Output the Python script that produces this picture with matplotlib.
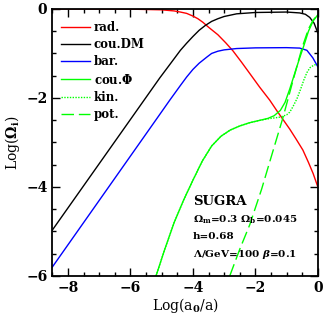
import numpy as np
import matplotlib
matplotlib.use('Agg')
import matplotlib.pyplot as plt
from matplotlib.ticker import MultipleLocator

plt.rcParams['font.family'] = ['DejaVu Serif']
plt.rcParams['font.weight'] = 'bold'
plt.rcParams['mathtext.fontset'] = 'custom'
plt.rcParams['mathtext.rm'] = 'DejaVu Serif:bold'
plt.rcParams['mathtext.it'] = 'DejaVu Serif:bold:italic'
plt.rcParams['mathtext.bf'] = 'DejaVu Serif:bold'

# radiation
x_rad = [-8.5, -6.0, -5.0, -4.6, -4.4, -4.2, -4.0, -3.84, -3.68, -3.5, -3.2, -2.95, -2.72, -2.45, -2.18, -1.86, -1.54, -1.31,
         -1.06, -0.9, -0.7, -0.48, -0.3, -0.15, 0.0]
y_rad = [0.0, -0.005, -0.02, -0.045, -0.07, -0.1, -0.16, -0.22, -0.3, -0.41, -0.58, -0.76, -0.94, -1.19, -1.45, -1.76, -2.05,
         -2.29, -2.54, -2.7, -2.92, -3.17, -3.45, -3.7, -4.0]

# coupled dark matter
x_dm = [-8.5, -5.06, -4.74, -4.4, -4.2, -4.0, -3.8, -3.6, -3.4, -3.2, -3.0, -2.8, -2.6, -2.3, -2.0, -1.0, -0.58, -0.4,
        -0.26, -0.12, 0.0]
y_dm = [-4.97, -1.55, -1.25, -0.93, -0.77, -0.62, -0.48, -0.37, -0.28, -0.22, -0.17, -0.14, -0.11, -0.095, -0.08, -0.07,
        -0.09, -0.12, -0.19, -0.32, -0.54]

# baryons
x_bar = [-8.5, -5.06, -4.74, -4.4, -4.2, -4.0, -3.8, -3.55, -3.4, -3.2, -3.0, -2.6, -2.0, -1.0, -0.58, -0.35, -0.16, 0.0]
y_bar = [-5.8, -2.37, -2.05, -1.72, -1.53, -1.36, -1.22, -1.08, -1.0, -0.95, -0.92, -0.89, -0.875, -0.87, -0.88, -0.93,
         -1.1, -1.3]

# coupled scalar field
x_phi = [-5.18, -4.9, -4.6, -4.3, -4.0, -3.7, -3.4, -3.1, -2.8, -2.5, -2.2, -1.9, -1.6, -1.4, -1.2, -1.05, -0.9, -0.75,
         -0.6, -0.45, -0.3, -0.15, 0.0]
y_phi = [-6.0, -5.4, -4.8, -4.3, -3.85, -3.42, -3.08, -2.86, -2.72, -2.63, -2.56, -2.51, -2.46, -2.4, -2.28, -2.1, -1.8,
         -1.47, -1.14, -0.83, -0.5, -0.27, -0.13]

# kinetic part
x_kin = [-5.18, -4.9, -4.6, -4.3, -4.0, -3.7, -3.4, -3.1, -2.8, -2.5, -2.2, -1.9, -1.6, -1.4, -1.2, -1.0, -0.9, -0.8,
         -0.67, -0.55, -0.45, -0.35, -0.25, -0.12, 0.0]
y_kin = [-6.0, -5.4, -4.8, -4.3, -3.85, -3.42, -3.08, -2.86, -2.72, -2.63, -2.56, -2.51, -2.47, -2.45, -2.43, -2.38, -2.32,
         -2.2, -2.02, -1.8, -1.6, -1.43, -1.32, -1.26, -1.24]

# potential part
x_pot = [-2.82, -2.5, -2.18, -1.8, -1.44, -1.12, -0.8, -0.5, -0.3, -0.15, 0.0]
y_pot = [-6.0, -5.4, -4.85, -4.05, -3.2, -2.45, -1.62, -0.86, -0.45, -0.25, -0.13]

fig = plt.figure(figsize=(3.27, 3.19), dpi=100)
ax = fig.add_axes([0.160, 0.135, 0.812, 0.837])

ax.plot(x_rad, y_rad, color='#ff0000', lw=1.0, label='rad.')
ax.plot(x_dm, y_dm, color='black', lw=1.0, label='cou.DM')
ax.plot(x_bar, y_bar, color='#0000ff', lw=1.0, label='bar.')
ax.plot(x_phi, y_phi, color='#00ff00', lw=1.0, label=r'cou.$\Phi$')
ax.plot(x_kin, y_kin, color='#00ff00', lw=1.0, linestyle=(0, (1, 1)), label='kin.')
ax.plot(x_pot, y_pot, color='#00ff00', lw=1.0, linestyle=(0, (9, 3.5)), label='pot.')

ax.set_xlim(-8.5, 0)
ax.set_ylim(-6, 0)
ax.xaxis.set_major_locator(MultipleLocator(2))
ax.xaxis.set_minor_locator(MultipleLocator(0.5))
ax.yaxis.set_major_locator(MultipleLocator(2))
ax.yaxis.set_minor_locator(MultipleLocator(0.5))
ax.tick_params(which='both', direction='in', top=True, right=True, width=1.0, labelsize=10)
ax.tick_params(which='major', length=5.5)
ax.tick_params(which='minor', length=3)
for s in ax.spines.values():
    s.set_linewidth(1.3)

ax.set_xlabel(r'Log(a$_0$/a)', fontsize=10, labelpad=1)
ax.set_ylabel(r'Log($\Omega_{\rm i}$)', fontsize=10, labelpad=3)

ax.legend(loc='upper left', frameon=False, fontsize=8.5, handlelength=2.5,
          handletextpad=0.3, labelspacing=0.35, borderaxespad=0.3,
          bbox_to_anchor=(0.0, 0.985))

ax.text(0.53, 0.277, 'SUGRA', transform=ax.transAxes, fontsize=9.5, va='center')
ax.text(0.53, 0.21, r'$\Omega_{\rm m}$=0.3 $\Omega_{\rm b}$=0.045', transform=ax.transAxes, fontsize=7.5, va='center')
ax.text(0.53, 0.146, 'h=0.68', transform=ax.transAxes, fontsize=7.5, va='center')
ax.text(0.53, 0.079, r'$\Lambda$/GeV=100 $\beta$=0.1', transform=ax.transAxes, fontsize=7.5, va='center')

fig.savefig('out.png', dpi=100)
